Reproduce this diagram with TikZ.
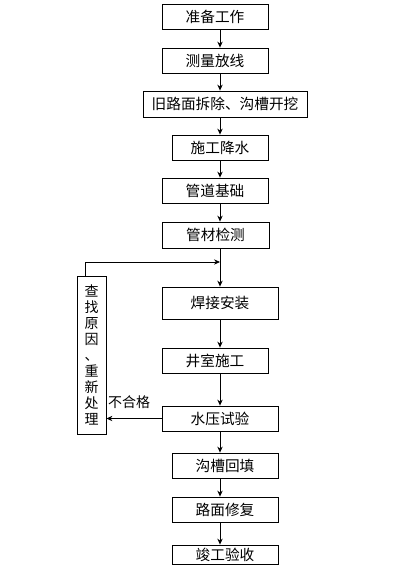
\documentclass[tikz,border=0pt]{standalone}
\usepackage{fontspec}
\setmainfont{Noto Sans CJK SC}
\usetikzlibrary{arrows.meta,positioning,calc}

\begin{document}
\begin{tikzpicture}[x=0.75pt, y=-0.75pt, >={Stealth[length=4.5pt,width=4pt]}, line width=0.6pt]
    \tikzset{
        block/.style={draw, rectangle, minimum height=18.75pt, minimum width=79.5pt, inner sep=0pt, align=center, font=\fontsize{11}{13}\selectfont},
        sideblock/.style={draw, rectangle, minimum width=21.75pt, minimum height=118.5pt, inner sep=0pt, align=center, font=\fontsize{10.5}{12}\selectfont},
        line/.style={draw, ->}
    }
    \useasboundingbox (0,0) rectangle (410,568);
    % Main steps
    \node[block] (prep) at (215, 16.5) {准备工作};
    \node[block] (survey) at (215, 60.5) {测量放线};
    \node[block, minimum width=123pt, minimum height=19.5pt] (demo) at (225, 104) {旧路面拆除、沟槽开挖};
    \node[block, minimum width=72pt] (dewater) at (220, 147.5) {施工降水};
    \node[block] (base) at (215, 190.5) {管道基础};
    \node[block, minimum width=80.25pt, minimum height=19.5pt] (check) at (215.5, 235) {管材检测};
    \node[block, minimum width=87pt, minimum height=24pt] (weld) at (220, 303) {焊接安装};
    \node[block] (well) at (215, 360.5) {井室施工};
    \node[block, minimum width=87pt] (test) at (220, 418.5) {水压试验};
    \node[block] (backfill) at (225, 465.5) {沟槽回填};
    \node[block] (repair) at (225, 509.5) {路面修复};
    \node[block, minimum height=14.25pt] (accept) at (225, 554.5) {竣工验收};

    % Rework box
    \node[sideblock] (fix) at (91.5, 355) {查\\找\\原\\因\\、\\重\\新\\处\\理};

    \coordinate (spine) at (220, 0);
    \coordinate (turn) at (85, 262);

    % Main flow
    \path[line] (prep.south -| spine) -- (survey.north -| spine);
    \path[line] (survey.south -| spine) -- (demo.north -| spine);
    \path[line] (demo.south -| spine) -- (dewater.north -| spine);
    \path[line] (dewater.south -| spine) -- (base.north -| spine);
    \path[line] (base.south -| spine) -- (check.north -| spine);
    \path[line] (check.south -| spine) -- (weld.north -| spine);
    \path[line] (weld.south -| spine) -- (well.north -| spine);
    \path[line] (well.south -| spine) -- (test.north -| spine);
    \path[line] (test.south -| spine) -- (backfill.north -| spine);
    \path[line] (backfill.south -| spine) -- (repair.north -| spine);
    \path[line] (repair.south -| spine) -- (accept.north -| spine);

    % Failed test loop
    \path[line] (test.west) -- node[pos=0.59, above=4pt, font=\fontsize{10.5}{12}\selectfont] {不合格} (test.west -| fix.east);
    \path[line] (turn |- fix.north) -- (turn) -- (turn -| spine);
\end{tikzpicture}
\end{document}
